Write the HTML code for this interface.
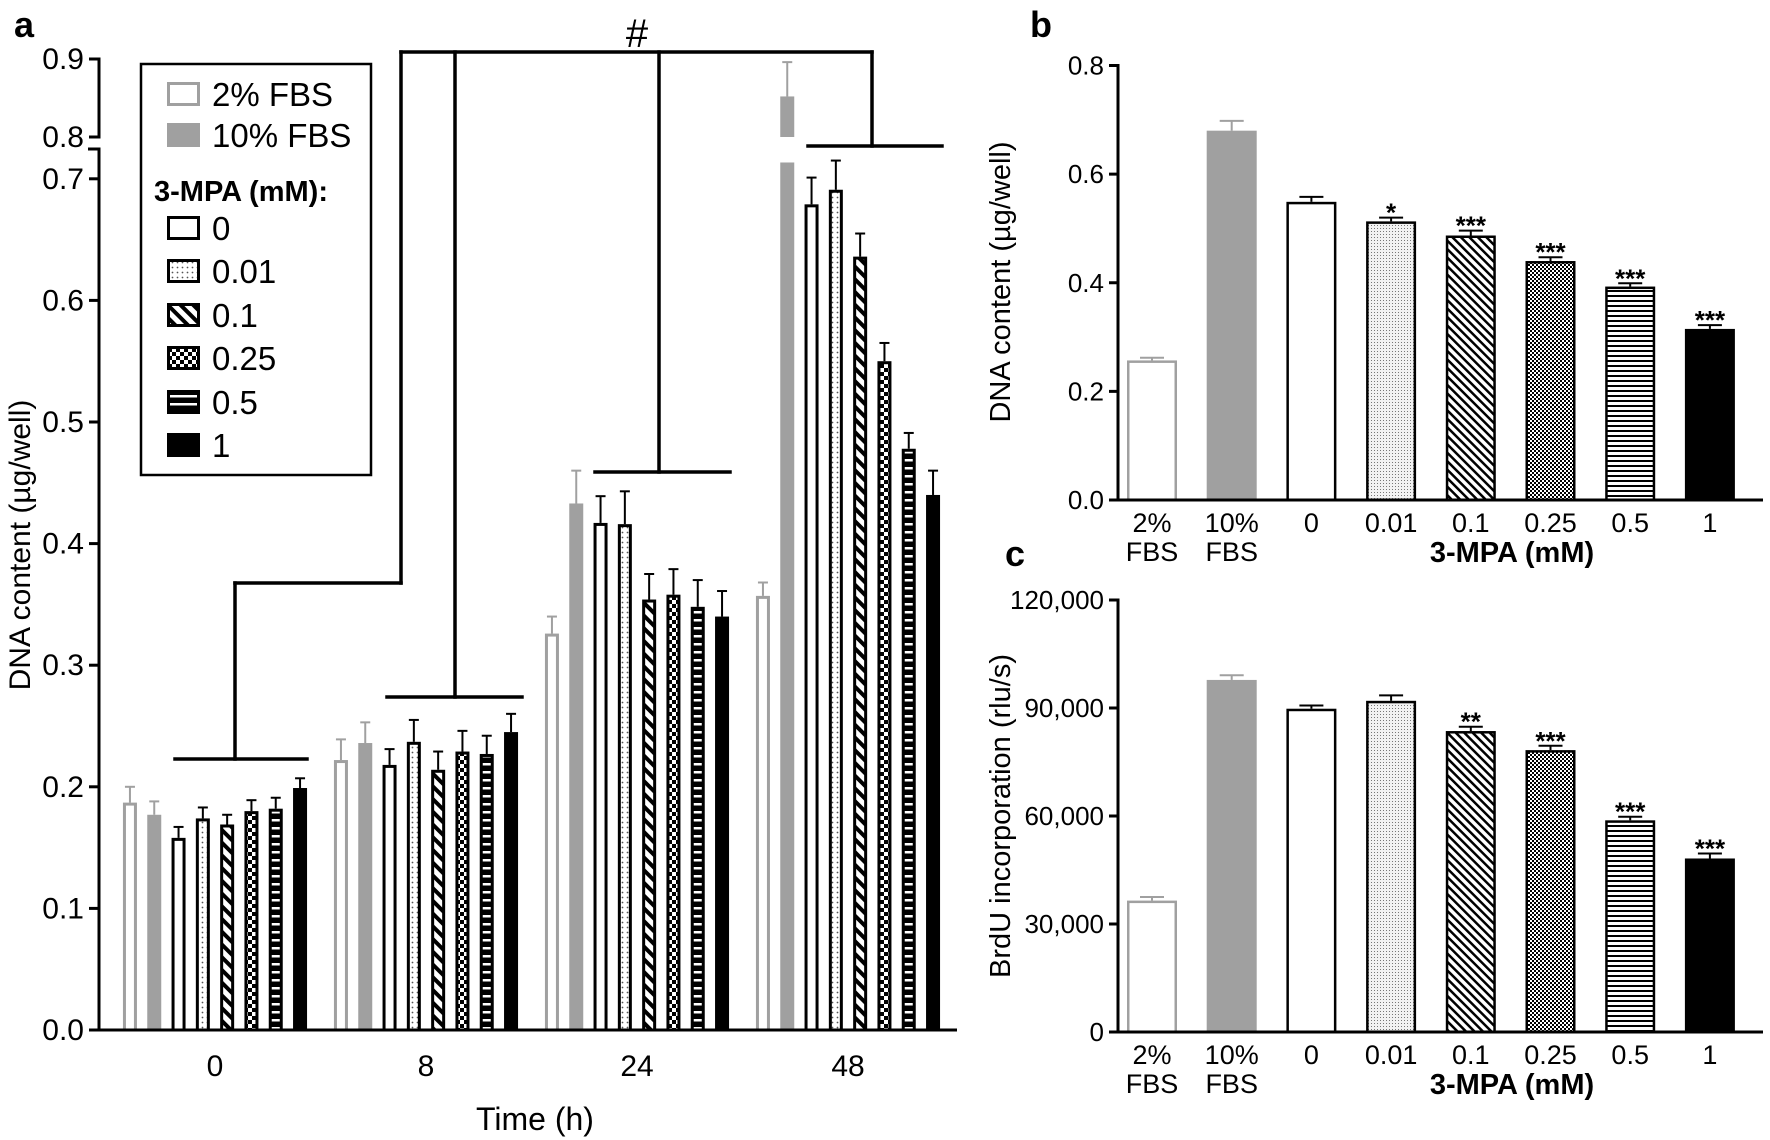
<!DOCTYPE html>
<html><head><meta charset="utf-8"><style>
html,body{margin:0;padding:0;background:#fff}
svg{display:block}
text{font-family:"Liberation Sans",sans-serif;fill:#000}
</style></head><body>
<svg id="fig" width="1770" height="1140" viewBox="0 0 1770 1140" xmlns="http://www.w3.org/2000/svg">
<defs>
<pattern id="pDots" patternUnits="userSpaceOnUse" width="5" height="5"><rect width="5" height="5" fill="#fff"/><circle cx="2.5" cy="2.5" r="0.9" fill="#555"/></pattern>
<pattern id="pDiag" patternUnits="userSpaceOnUse" width="9" height="9" patternTransform="rotate(-45)"><rect width="9" height="9" fill="#fff"/><rect width="4" height="9" fill="#000"/></pattern>
<pattern id="pCheck" patternUnits="userSpaceOnUse" width="8" height="8"><rect width="8" height="8" fill="#000"/><rect width="4" height="4" fill="#fff"/><rect x="4" y="4" width="4" height="4" fill="#fff"/></pattern>
<pattern id="pH" patternUnits="userSpaceOnUse" width="8" height="8"><rect width="8" height="8" fill="#000"/><rect y="3" width="8" height="2.5" fill="#fff"/></pattern>
<pattern id="pDiagB" patternUnits="userSpaceOnUse" width="6" height="6" patternTransform="rotate(-45)"><rect width="6" height="6" fill="#fff"/><rect width="2.5" height="6" fill="#000"/></pattern>
<pattern id="pCheckB" patternUnits="userSpaceOnUse" width="4" height="4"><rect width="4" height="4" fill="#fff"/><rect width="2" height="2" fill="#000"/><rect x="2" y="2" width="2" height="2" fill="#000"/></pattern>
<pattern id="pHB" patternUnits="userSpaceOnUse" width="6" height="5"><rect width="6" height="5" fill="#fff"/><rect y="0" width="6" height="2" fill="#000"/></pattern>
<pattern id="pDotsB" patternUnits="userSpaceOnUse" width="3" height="3"><rect width="3" height="3" fill="#f2f2f2"/><rect width="1" height="1" fill="#777"/></pattern>
</defs>
<g id="panelA"></g>
<g id="panelB"></g>
<g id="panelC"></g>
</svg>
<script>
// Panel a data
const aTimes = ["0","8","24","48"];
const aSeries = ["2% FBS","10% FBS","0","0.01","0.1","0.25","0.5","1"];
const aT0 = [0.187,0.177,0.158,0.174,0.169,0.180,0.182,0.199];
const aT0err = [0.013,0.011,0.009,0.009,0.008,0.009,0.009,0.008];
const aT8 = [0.222,0.236,0.218,0.237,0.214,0.229,0.227,0.245];
const aT8err = [0.017,0.017,0.013,0.018,0.015,0.017,0.015,0.015];
const aT24 = [0.326,0.433,0.417,0.416,0.354,0.358,0.348,0.340];
const aT24err = [0.014,0.027,0.022,0.027,0.021,0.021,0.022,0.021];
const aT48 = [0.357,0.852,0.679,0.691,0.636,0.550,0.478,0.440];
const aT48err = [0.011,0.044,0.022,0.024,0.019,0.015,0.013,0.020];
const aTicksLow = [0.0,0.1,0.2,0.3,0.4,0.5,0.6,0.7];
const aTicksHigh = [0.8,0.9];
// Panel b/c data
const bcCats = ["2%|FBS","10%|FBS","0","0.01","0.1","0.25","0.5","1"];
const bVals = [0.257,0.680,0.549,0.513,0.487,0.440,0.393,0.315];
const bErr = [0.005,0.018,0.009,0.007,0.009,0.007,0.006,0.007];
const bStars = ["","","","*","***","***","***","***"];
const bTicks = [0.0,0.2,0.4,0.6,0.8];
const cVals = [36500,97800,89800,92000,83600,78300,58800,48200];
const cErr = [1000,1300,900,1500,1200,1200,1000,1400];
const cStars = ["","","","","**","***","***","***"];
const cTicks = [0,30000,60000,90000,120000];
const cTickLabels = ["0","30,000","60,000","90,000","120,000"];

const NS="http://www.w3.org/2000/svg";
function mk(parent,tag,attrs,txt){const e=document.createElementNS(NS,tag);for(const k in attrs)e.setAttribute(k,attrs[k]);if(txt!==undefined)e.textContent=txt;parent.appendChild(e);return e;}

const fillsA=["#fff","#a0a0a0","#fff","url(#pDots)","url(#pDiag)","url(#pCheck)","url(#pH)","#000"];
const fillsB=["#fff","#a0a0a0","#fff","url(#pDotsB)","url(#pDiagB)","url(#pCheckB)","url(#pHB)","#000"];
const strokeC=["#a0a0a0","#a0a0a0","#000","#000","#000","#000","#000","#000"];

// ---------- Panel A ----------
const A=document.getElementById('panelA');
const ax0=99, ay0=1030, aScale=1216, axEnd=957;
function yA(v){ if(v<=0.72) return ay0 - v*aScale; return 137 - (v-0.8)*780; }
const groupC0=215, groupStep=211, barStep=24.3, barW=14;
function xA(g,i){ return groupC0 + g*groupStep + (i-3.5)*barStep; }
const aData=[aT0,aT8,aT24,aT48], aErrs=[aT0err,aT8err,aT24err,aT48err];
aData.forEach((arr,g)=>{
  arr.forEach((v,i)=>{
    const cx=xA(g,i), x=cx-barW/2;
    const sw = 3;
    const top=yA(v);
    const e=aErrs[g][i];
    const et=yA(v+e);
    const eb=mk(A,'line',{x1:cx,x2:cx,y1:top,y2:et,stroke:strokeC[i],'stroke-width':2});
    
    
    const cap=mk(A,'line',{x1:cx-5,x2:cx+5,y1:et,y2:et,stroke:strokeC[i],'stroke-width':2});
    
    
    if(v>0.72){
      const r1=mk(A,'rect',{x:x,y:yA(0.72)+8,width:barW,height:ay0-yA(0.72)-8,fill:fillsA[i]});
      
      
      const r2=mk(A,'rect',{x:x,y:top,width:barW,height:137-top,fill:fillsA[i]});
      
      
    } else if(i===1){
      const r=mk(A,'rect',{x:x,y:top,width:barW,height:ay0-top,fill:fillsA[i]});
      
      
    } else {
      const r=mk(A,'rect',{x:x+sw/2,y:top+sw/2,width:barW-sw,height:ay0-top-sw/2,fill:fillsA[i],stroke:strokeC[i],'stroke-width':sw});
      
      
    }
  });
  const tl=mk(A,'text',{x:groupC0+g*groupStep,y:1076,'font-size':30,'text-anchor':'middle'},aTimes[g]);
  
  
});
// axes
mk(A,'line',{x1:ax0,x2:ax0,y1:149,y2:ay0+1.5,stroke:'#000','stroke-width':3,});
mk(A,'line',{x1:ax0,x2:ax0,y1:59,y2:137,stroke:'#000','stroke-width':3,});
mk(A,'line',{x1:ax0-11,x2:ax0+1.5,y1:149,y2:149,stroke:'#000','stroke-width':3,});
mk(A,'line',{x1:ax0,x2:axEnd,y1:ay0,y2:ay0,stroke:'#000','stroke-width':3,});
aTicksLow.concat(aTicksHigh).forEach(t=>{
  const y=yA(t);
  const l=mk(A,'line',{x1:ax0-10,x2:ax0+1.5,y1:y,y2:y,stroke:'#000','stroke-width':3});
  
  
  const tx=mk(A,'text',{x:ax0-15,y:y+10,'font-size':30,'text-anchor':'end'},t.toFixed(1));
  
  
});
// brackets
const br=[[401,52,872,52],[401,52,401,583],[235,583,401,583],[235,583,235,759],[175,759,307,759],
[455,52,455,697],[387,697,522,697],[659,52,659,472],[595,472,730,472],[872,52,872,146],[808,146,942,146]];
br.forEach(b=>{const l=mk(A,'line',{x1:b[0],y1:b[1],x2:b[2],y2:b[3],stroke:'#000','stroke-width':3.5,'stroke-linecap':'square'});

});
mk(A,'text',{x:637,y:47,'font-size':40,'text-anchor':'middle',},'#');
mk(A,'text',{x:14,y:37,'font-size':36,'font-weight':'bold',},'a');
mk(A,'text',{x:0,y:0,'font-size':30,'text-anchor':'middle',transform:'translate(30,545) rotate(-90)',},'DNA content (µg/well)');
mk(A,'text',{x:535,y:1130,'font-size':32,'text-anchor':'middle',},'Time (h)');
// legend
const L=mk(A,'g',{});
mk(L,'rect',{x:141,y:64,width:230,height:411,fill:'#fff',stroke:'#000','stroke-width':2.5,});
const legY=[94,135,228,271,315,358,402,445];
const legLab=["2% FBS","10% FBS","0","0.01","0.1","0.25","0.5","1"];
legY.forEach((y,i)=>{
  const g=mk(L,'g',{});
  
  
  if(i===1) mk(g,'rect',{x:167,y:y-12,width:33,height:24,fill:'#a0a0a0'});
  else mk(g,'rect',{x:168.5,y:y-10.5,width:30,height:21,fill:fillsA[i],stroke:strokeC[i],'stroke-width':3});
  mk(g,'text',{x:212,y:y+12,'font-size':33},legLab[i]);
});
mk(L,'text',{x:154,y:201,'font-size':29,'font-weight':'bold',},'3-MPA (mM):');

// ---------- Panels B & C ----------
function drawBC(P,vals,errs,stars,ticks,tickLabels,y0,yTop,vmax,title,lbl,lblX,lblY,titleY){
  const x0=1118, xEnd=1763, c0=1152, step=79.7, w=50;
  const sy=v=>y0-(v/vmax)*(y0-yTop);
  vals.forEach((v,i)=>{
    const cx=c0+i*step, top=sy(v), et=sy(v+errs[i]);
    const eb=mk(P,'line',{x1:cx,x2:cx,y1:top,y2:et,stroke:strokeC[i],'stroke-width':2});
    
    
    const cap=mk(P,'line',{x1:cx-12,x2:cx+12,y1:et,y2:et,stroke:strokeC[i],'stroke-width':2});
    
    
    let r;
    if(i===1) r=mk(P,'rect',{x:cx-w/2,y:top,width:w,height:y0-top,fill:fillsB[i]});
    else r=mk(P,'rect',{x:cx-w/2+1.25,y:top+1.25,width:w-2.5,height:y0-top-1.25,fill:fillsB[i],stroke:strokeC[i],'stroke-width':2.5});
    
    
    if(stars[i]){
      const s=mk(P,'text',{x:cx,y:et+4,'font-size':26,'font-weight':'bold','text-anchor':'middle'},stars[i]);
      
      
    }
    const parts=bcCats[i].split('|');
    parts.forEach((p,k)=>{
      const t=mk(P,'text',{x:cx,y:y0+32+k*29,'font-size':27,'text-anchor':'middle'},p);
      
      
    });
  });
  mk(P,'line',{x1:x0,x2:x0,y1:yTop-1.5,y2:y0+1.5,stroke:'#000','stroke-width':3,});
  mk(P,'line',{x1:x0,x2:xEnd,y1:y0,y2:y0,stroke:'#000','stroke-width':3,});
  ticks.forEach((t,k)=>{
    const y=sy(t);
    const l=mk(P,'line',{x1:x0-9,x2:x0,y1:y,y2:y,stroke:'#000','stroke-width':3});
    
    
    const tx=mk(P,'text',{x:x0-14,y:y+9,'font-size':26,'text-anchor':'end'},tickLabels[k]);
    
    
  });
  mk(P,'text',{x:1512,y:y0+62,'font-size':29,'font-weight':'bold','text-anchor':'middle',},'3-MPA (mM)');
  mk(P,'text',{x:lblX,y:lblY,'font-size':36,'font-weight':'bold',},lbl);
  mk(P,'text',{x:0,y:0,'font-size':29,'text-anchor':'middle',transform:'translate(1010,'+titleY+') rotate(-90)',},title);
}
drawBC(document.getElementById('panelB'),bVals,bErr,bStars,bTicks,bTicks.map(t=>t.toFixed(1)),500,65.5,0.8,'DNA content (µg/well)','b',1030,37,282);
drawBC(document.getElementById('panelC'),cVals,cErr,cStars,cTicks,cTickLabels,1032,600,120000,'BrdU incorporation (rlu/s)','c',1005,566,816);
</script>
</body></html>
